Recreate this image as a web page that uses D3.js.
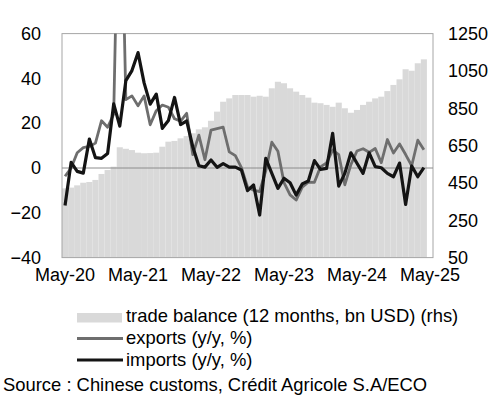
<!DOCTYPE html>
<html>
<head>
<meta charset="utf-8">
<script src="https://cdn.jsdelivr.net/npm/d3@7"></script>
<style>
  body { margin: 0; background: #fff; }
  svg { display: block; font-family: "Liberation Sans", Arial, sans-serif; }
</style>
</head>
<body>
<div id="chart"></div>
<script>
// monthly categories May-20 .. May-25 (last month has no data yet)
const months = d3.timeMonth.range(new Date(2020, 4, 1), new Date(2025, 5, 1));
const tickLabels = ['May-20', 'May-21', 'May-22', 'May-23', 'May-24', 'May-25'];
const leftTicks = [-40, -20, 0, 20, 40, 60];
const rightTicks = [50, 250, 450, 650, 850, 1050, 1250];

// trade balance, 12 months rolling, bn USD (rhs)
const tradeBalance = [
    421, 425, 437, 451, 455, 466, 498, 519, 537, 641,
    633, 626, 612, 609, 610, 612, 644, 671, 675, 689,
    701, 716, 737, 748, 783, 832, 885, 903, 921, 921,
    921, 912, 917, 912, 957, 992, 984, 957, 939, 921,
    907, 880, 877, 868, 858, 880, 850, 826, 841, 868,
    885, 903, 912, 942, 975, 1005, 1059, 1051, 1091, 1112
];
// exports y/y %
const exportsYoY = [
    -3.7, 0, 6.8, 9.1, 9.6, 11.1, 21.1, 18.2, 24, 155,
    30.5, 32.2, 27.8, 32.2, 19.3, 25.6, 28.1, 27.1, 22, 20.9,
    24.4, 6, 14.7, 3.7, 16.9, 17.6, 18.2, 7.2, 5.5, 0.2,
    -8.5, -9.9, -10.5, -1.3, 11.5, 7.5, -6.5, -12, -14.3, -8.5,
    -6.3, -6.4, 0.5, 2.3, 8, 6, -7.5, 1.5, 7.6, 8.6,
    7, 8.7, 2.4, 12.7, 6.7, 10.7, 6, 1, 12.4, 8.1
];
// imports y/y %
const importsYoY = [
    -16.7, 2.5, -1.5, -2.3, 12.9, 4.6, 4.3, 6.5, 28.6, 18.7,
    39, 43.5, 51.5, 38, 28.5, 33, 17.7, 21.2, 31.5, 19.4,
    21, 9.5, 1, 0.4, 3.6, 0.3, 2, 0.4, 0.4, -0.9,
    -10.1, -7.6, -21, 4.3, -2.4, -9.1, -4.6, -6.6, -12.1, -7.1,
    -5.8, 3.3, -0.6, -0.2, 15.5, -8.1, -2.4, 6.8, 2.1, -2.4,
    6.8, 0.6, 0.1, -2.4, -3.9, 2.2, -16.3, 0.9, -3.9, 0.2
];

const width = 500, height = 404;
const plot = { left: 62, right: 433, top: 33.6, bottom: 257.6 };

const svg = d3.select('#chart')
    .append('svg')
    .attr('width', width)
    .attr('height', height);

const x = d3.scaleBand()
    .domain(d3.range(months.length))
    .range([plot.left, plot.right])
    .padding(0);

const yL = d3.scaleLinear().domain([-40, 60]).range([plot.bottom, plot.top]);
const yR = d3.scaleLinear().domain([50, 1250]).range([plot.bottom, plot.top]);

svg.append('defs').append('clipPath')
    .attr('id', 'plotClip')
    .append('rect')
    .attr('x', plot.left)
    .attr('y', plot.top)
    .attr('width', plot.right - plot.left)
    .attr('height', plot.bottom - plot.top);

// bars
svg.append('g')
    .selectAll('rect')
    .data(tradeBalance)
    .join('rect')
    .attr('x', (d, i) => x(i))
    .attr('y', d => yR(d))
    .attr('width', x.bandwidth())
    .attr('height', d => yR(50) - yR(d))
    .attr('fill', '#d9d9d9');

// plot frame
svg.append('rect')
    .attr('x', plot.left)
    .attr('y', plot.top)
    .attr('width', plot.right - plot.left)
    .attr('height', plot.bottom - plot.top)
    .attr('fill', 'none')
    .attr('stroke', '#a6a6a6')
    .attr('stroke-width', 1);

// zero line
svg.append('line')
    .attr('x1', plot.left)
    .attr('x2', plot.right)
    .attr('y1', yL(0))
    .attr('y2', yL(0))
    .attr('stroke', '#8c8c8c')
    .attr('stroke-width', 1);

const line = d3.line()
    .x((d, i) => x(i) + x.bandwidth() / 2)
    .y(d => yL(d));

const lines = svg.append('g').attr('clip-path', 'url(#plotClip)');

lines.append('path')
    .datum(exportsYoY)
    .attr('d', line)
    .attr('fill', 'none')
    .attr('stroke', '#6e6e6e')
    .attr('stroke-width', 2.8)
    .attr('stroke-linejoin', 'round');

lines.append('path')
    .datum(importsYoY)
    .attr('d', line)
    .attr('fill', 'none')
    .attr('stroke', '#141414')
    .attr('stroke-width', 3.2)
    .attr('stroke-linejoin', 'round');

// axes
function styleAxis(g) {
    g.select('.domain').remove();
    g.selectAll('text')
        .attr('font-size', '18px')
        .attr('fill', '#000')
        .attr('font-family', '"Liberation Sans", Arial, sans-serif');
}

svg.append('g')
    .attr('transform', `translate(${plot.left},0)`)
    .call(d3.axisLeft(yL).tickValues(leftTicks).tickSize(0).tickPadding(21))
    .call(styleAxis);

svg.append('g')
    .attr('transform', `translate(${plot.right},0)`)
    .call(d3.axisRight(yR).tickValues(rightTicks).tickFormat(d3.format('d')).tickSize(0).tickPadding(15))
    .call(styleAxis);

svg.append('g')
    .attr('transform', `translate(0,${plot.bottom})`)
    .call(d3.axisBottom(x)
        .tickValues(d3.range(0, months.length, 12))
        .tickFormat((d, i) => tickLabels[i])
        .tickSize(0)
        .tickPadding(10.5))
    .call(styleAxis);

// legend
const legend = svg.append('g').attr('font-size', '18.4px');

legend.append('rect')
    .attr('x', 77)
    .attr('y', 313)
    .attr('width', 45)
    .attr('height', 9.5)
    .attr('fill', '#d9d9d9');
legend.append('text').attr('x', 126).attr('y', 322)
    .text('trade balance (12 months, bn USD) (rhs)');

legend.append('line')
    .attr('x1', 77).attr('x2', 123).attr('y1', 338.5).attr('y2', 338.5)
    .attr('stroke', '#6e6e6e').attr('stroke-width', 3);
legend.append('text').attr('x', 126).attr('y', 344)
    .text('exports (y/y, %)');

legend.append('line')
    .attr('x1', 77).attr('x2', 123).attr('y1', 360).attr('y2', 360)
    .attr('stroke', '#141414').attr('stroke-width', 3);
legend.append('text').attr('x', 126).attr('y', 366)
    .text('imports (y/y, %)');

svg.append('text')
    .attr('x', 3)
    .attr('y', 391)
    .attr('font-size', '18.4px')
    .text('Source : Chinese customs, Crédit Agricole S.A/ECO');
</script>
</body>
</html>
